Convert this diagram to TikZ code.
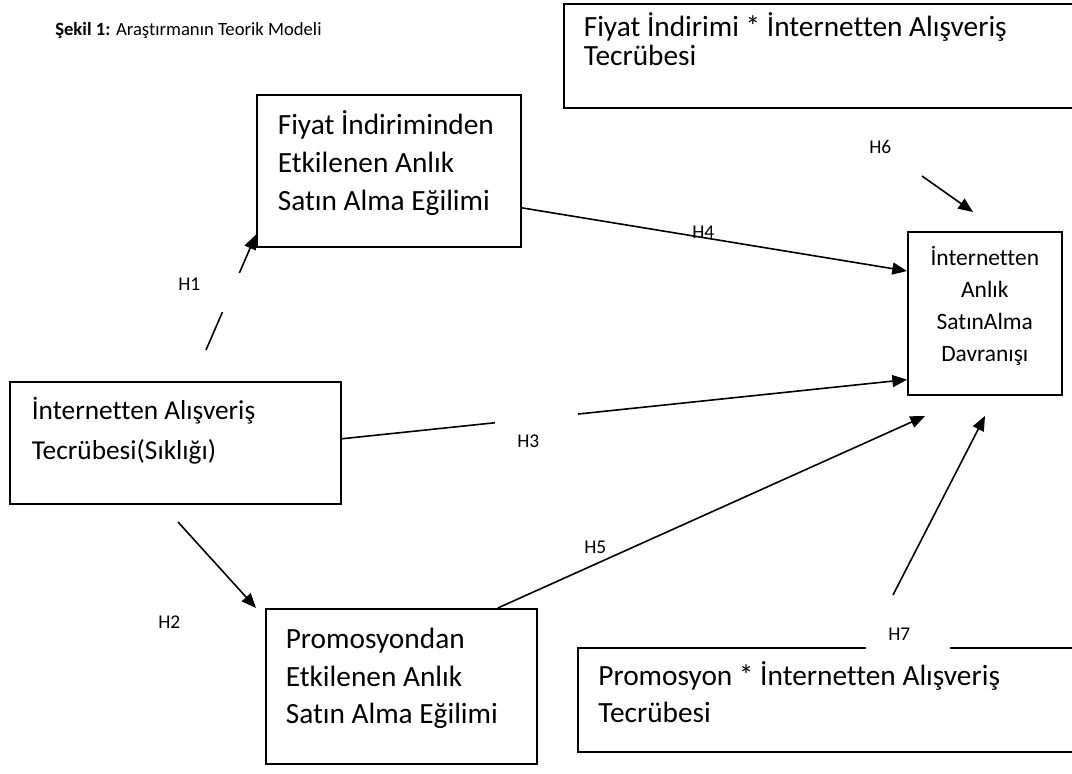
\documentclass[tikz,border=0pt]{standalone}
\usepackage{fontspec}
\setmainfont{Carlito}[Ligatures=NoCommon]
\usetikzlibrary{arrows.meta}

\tikzset{
  frame/.style={draw, line width=1.2pt, anchor=north west, inner ysep=0pt},
  conn/.style={line width=1.2pt, -{Triangle[length=11pt,width=9pt]}},
  hyp/.style={anchor=base west, inner sep=0pt, font=\fontsize{14.6}{17}\selectfont},
  hypmask/.style={fill=white, anchor=north west, inner ysep=0pt, align=flush left,
    font=\fontsize{14.6}{17}\selectfont},
}

\begin{document}
\begin{tikzpicture}[x=0.75pt, y=-0.75pt]
  \useasboundingbox (0,0) rectangle (1072,774);
  \clip (0,0) rectangle (1072,774);

  \node[anchor=base west, inner sep=0pt, font=\fontsize{14}{17}\selectfont] (title) at (55,36)
    {\textbf{Şekil 1:} Araştırmanın Teorik Modeli};

  % boxes
  \node[frame, align=flush left, inner xsep=15pt, text width=372.75pt, text height=24.75pt, text depth=53.25pt,
    font=\fontsize{22}{21.75}\selectfont] (T) at (563,3)
    {Fiyat İndirimi * İnternetten Alışveriş\\Tecrübesi};
  \node[frame, align=flush left, inner xsep=15.75pt, text width=166.5pt, text height=30pt, text depth=84pt,
    font=\fontsize{22}{28.5}\selectfont] (A) at (256,94)
    {Fiyat İndiriminden\\Etkilenen Anlık\\Satın Alma Eğilimi};
  \node[frame, align=flush left, inner xsep=16.5pt, text width=215.25pt, text height=28.5pt, text depth=63pt,
    font=\fontsize{20.5}{30}\selectfont] (S) at (9,381)
    {İnternetten Alışveriş\\Tecrübesi(Sıklığı)};
  \node[frame, align=flush left, inner xsep=15pt, text width=173.25pt, text height=30pt, text depth=86.25pt,
    font=\fontsize{22}{28}\selectfont] (B) at (265,608)
    {Promosyondan\\Etkilenen Anlık\\Satın Alma Eğilimi};
  \node[frame, align=flush center, inner xsep=7.5pt, text width=100.5pt, text height=25.5pt, text depth=96.75pt,
    font=\fontsize{17.6}{24}\selectfont] (D) at (907,231)
    {İnternetten\\Anlık\\SatınAlma\\Davranışı};
  \node[frame, align=flush left, inner xsep=15.4pt, text width=361.5pt, text height=28.5pt, text depth=49.5pt,
    font=\fontsize{22}{27.75}\selectfont] (P) at (577,647)
    {Promosyon * İnternetten Alışveriş\\Tecrübesi};

  \coordinate (h1s) at (206,350);
  \coordinate (h2s) at (178,522);
  \coordinate (h5e) at (925,416);
  \coordinate (h6s) at (922,176);
  \coordinate (h6e) at (973,212);
  \coordinate (h7s) at (893,595);
  \coordinate (h7e) at (985,416);

  % hypotheses
  \draw[conn] (h1s) -- ([yshift=9.75pt]A.south west);
  \draw[conn] (h2s) -- ([xshift=-6.75pt]B.north west);
  \draw[conn] ([yshift=3pt]S.east) -- ([yshift=12pt]D.south west);
  \draw[conn] ([yshift=-27.75pt]A.east) -- ([yshift=-30pt]D.north west);
  \draw[conn] ([xshift=72.4pt]B.north) -- (h5e);
  \draw[conn] (h6s) -- (h6e);
  \draw[conn] (h7s) -- (h7e);

  \node[hypmask, inner xsep=13.5pt, text width=33.75pt, text height=12.75pt, text depth=16.5pt] (H1) at (160,273) {H1};
  \node[hyp] (H2) at (158,628) {H2};
  \node[hypmask, inner xsep=16.5pt, text width=29.25pt, text height=27pt, text depth=6pt] (H3) at (495,411) {H3};
  \node[hyp] (H4) at (692,238) {H4};
  \node[hyp] (H5) at (584,553) {H5};
  \node[hyp] (H6) at (869,154) {H6};
  \node[hypmask, inner xsep=16.5pt, text width=30pt, text height=30pt, text depth=9pt] (H7) at (866,600) {H7};
\end{tikzpicture}
\end{document}
